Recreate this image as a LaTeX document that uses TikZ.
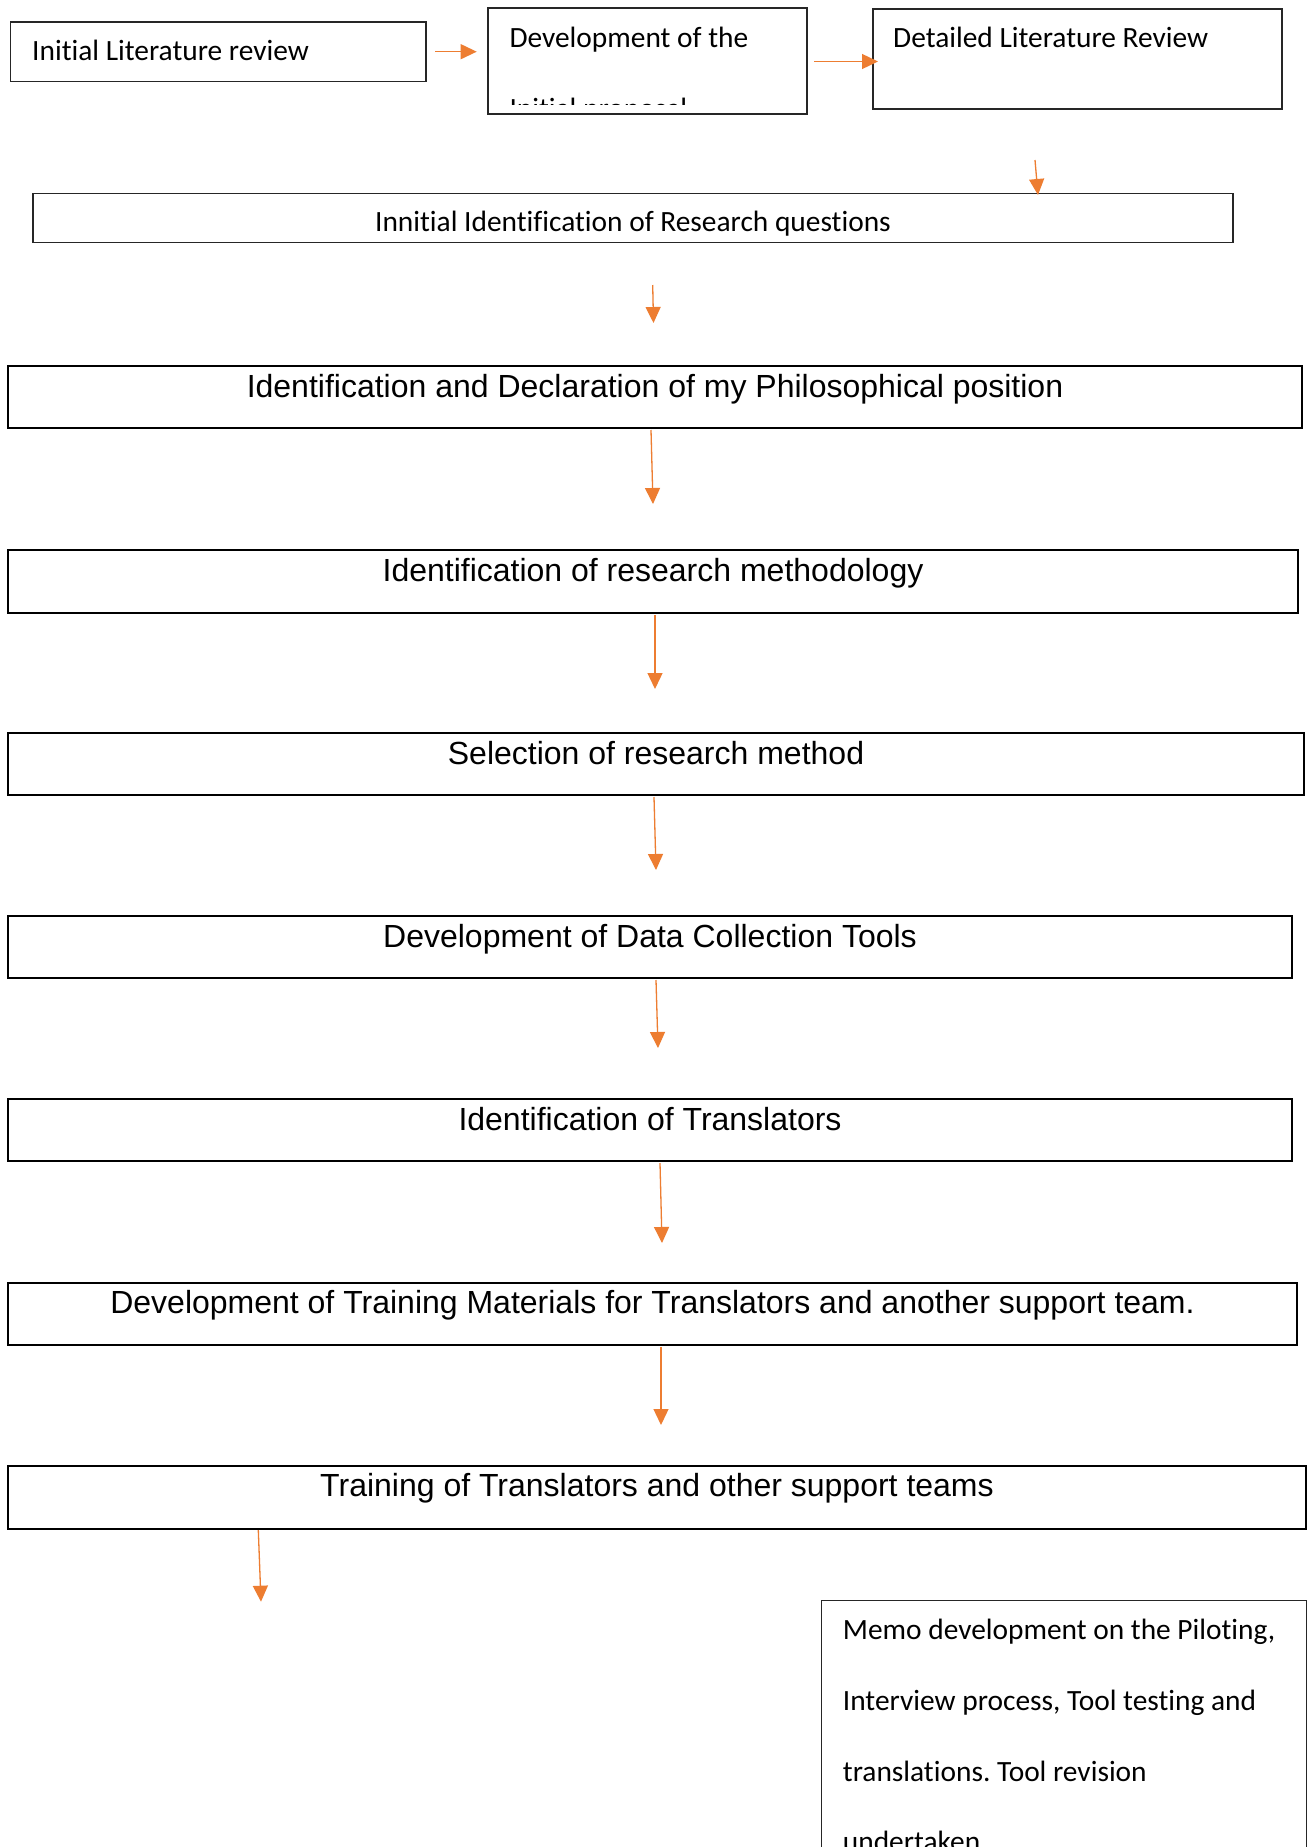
\documentclass[tikz,border=0pt]{standalone}
\usepackage{fontspec}
\usetikzlibrary{arrows.meta}
\newfontfamily\calfont[Ligatures={NoCommon}]{Carlito}
\newfontfamily\arifont{Liberation Sans}
\definecolor{arroworange}{RGB}{237,125,49}
\frenchspacing
\begin{document}
\begin{tikzpicture}[x=1pt,y=-1pt,
  smallbox/.style={draw=black!85,line width=1.2pt,inner sep=0pt,outer sep=0pt,anchor=north west},
  bigbox/.style={draw=black,line width=2.2pt,inner sep=0pt,outer sep=0pt,anchor=north west},
  memobox/.style={draw=black!85,line width=1pt,inner sep=0pt,outer sep=0pt,anchor=north west},
  smalltext/.style={inner sep=0pt,font=\calfont\fontsize{29.4}{35}\selectfont},
  bigtext/.style={inner sep=0pt,anchor=base,font=\arifont\fontsize{32}{38}\selectfont},
  arr/.style={draw=arroworange,line width=1.3pt,-{Triangle[width=15pt,length=16pt]},arroworange}]
\useasboundingbox[fill=white] (0,0) rectangle (1311,1847);

% top row of boxes
\node[smallbox,minimum width=415.3pt,minimum height=59.7pt] (b1) at (10.7,22) {};
\node[smallbox,minimum width=319pt,minimum height=106pt] (b2) at (488,8) {};
\node[smallbox,minimum width=409pt,minimum height=100pt] (b3) at (873,9) {};
\node[smalltext,anchor=base west] (t1) at (32,60) {Initial Literature review};
\node[smalltext,anchor=base west] (t2) at (509.3,47) {Development of the};
\begin{scope}
  % second line of the box is cut off by the box's text area
  \clip (489,9) rectangle (806,104.5);
  \node[smalltext,anchor=base west] (t2b) at (509.3,118) {Initial proposal};
\end{scope}
\node[smalltext,anchor=base west] (t3) at (893,47.5) {Detailed Literature Review};

% research questions
\node[smallbox,minimum width=1200pt,minimum height=49.4pt] (b4) at (33,193.3) {};
\node[smalltext,anchor=base] (t4) at (633,231.7) {Innitial Identification of Research questions};

% main chain of wide boxes
\node[bigbox,minimum width=1294pt,minimum height=62pt] (b5) at (8,366) {};
\node[bigbox,minimum width=1290pt,minimum height=63pt] (b6) at (8,550) {};
\node[bigbox,minimum width=1296pt,minimum height=62pt] (b7) at (8,733) {};
\node[bigbox,minimum width=1284pt,minimum height=62pt] (b8) at (8,916) {};
\node[bigbox,minimum width=1284pt,minimum height=62pt] (b9) at (8,1099) {};
\node[bigbox,minimum width=1289pt,minimum height=62pt] (b10) at (8,1283) {};
\node[bigbox,minimum width=1298pt,minimum height=63pt] (b11) at (8,1465.7) {};

\node[bigtext] (t5) at (655,397) {Identification and Declaration of my Philosophical position};
\node[bigtext] (t6) at (653,581) {Identification of research methodology};
\node[bigtext] (t7) at (656,764) {Selection of research method};
\node[bigtext] (t8) at (650,947) {Development of Data Collection Tools};
\node[bigtext] (t9) at (650,1130) {Identification of Translators};
\node[bigtext] (t10) at (652.5,1313.8) {Development of Training Materials for Translators and another support team.};
\node[bigtext] (t11) at (657,1496.5) {Training of Translators and other support teams};

% memo box running off the bottom edge
\node[memobox,minimum width=485pt,minimum height=280pt] (b12) at (821.7,1600) {};
\node[smalltext,anchor=base west] (m1) at (842.7,1639) {Memo development on the Piloting,};
\node[smalltext,anchor=base west] (m2) at (842.7,1710) {Interview process, Tool testing and};
\node[smalltext,anchor=base west] (m3) at (842.7,1781) {translations. Tool revision};
\node[smalltext,anchor=base west] (m4) at (842.7,1851.5) {undertaken};

% arrow end points
\coordinate (a1s) at (435,51.7);   \coordinate (a1e) at (476.7,51.7);
\coordinate (a2s) at (814,61.5);   \coordinate (a2e) at (878,61.5);
\coordinate (a3s) at (1035,160);   \coordinate (a3e) at (1038,195);
\coordinate (a4s) at (652.7,285);  \coordinate (a4e) at (653.5,323);
\coordinate (a5s) at (651,430);    \coordinate (a5e) at (653,504);
\coordinate (a6s) at (655,615);    \coordinate (a6e) at (655,689);
\coordinate (a7s) at (654,797);    \coordinate (a7e) at (656,870);
\coordinate (a8s) at (656,980);    \coordinate (a8e) at (658,1048);
\coordinate (a9s) at (660,1163);   \coordinate (a9e) at (662,1243);
\coordinate (a10s) at (661,1347);  \coordinate (a10e) at (661,1425);
\coordinate (a11s) at (258.3,1530); \coordinate (a11e) at (261,1601.7);

\foreach \k in {1,...,11} \draw[arr] (a\k s) -- (a\k e);
\end{tikzpicture}
\end{document}
